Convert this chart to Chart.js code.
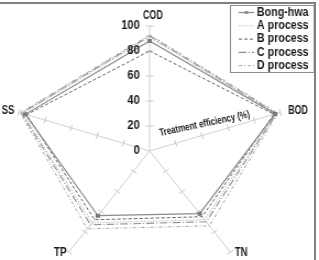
<!DOCTYPE html>
<html>
<head>
<meta charset="utf-8">
<script src="https://cdn.jsdelivr.net/npm/chart.js@4"></script>
<style>
html, body { margin: 0; padding: 0; background: #fff; }
#frame { position: relative; width: 319px; height: 260px; overflow: hidden; background: #fff; }
/* the reference is stretched sideways, so the canvas is too */
#wrap { position: absolute; left: 0; top: 0; width: 290px; height: 290px; transform: scaleX(1.1); transform-origin: 0 0; }
#edge { position: absolute; left: 0; top: 2px; width: 314px; height: 270px; border-top: 2px solid #808080; border-right: 2px solid #808080; pointer-events: none; }
</style>
</head>
<body>
<div id="frame">
  <div id="wrap"><canvas id="radar" width="290" height="290"></canvas></div>
  <div id="edge"></div>
</div>
<script>
const axes = ['COD', 'BOD', 'TN', 'TP', 'SS'];
const seriesNames = ['Bong-hwa', 'A process', 'B process', 'C process', 'D process'];
const bongHwa = [88, 96, 62, 64, 95];
const procA = [91, 96, 68, 71, 97];
const procB = [80, 95, 65, 68, 94];
const procC = [92, 97, 70, 73, 98];
const procD = [93, 98, 74, 77, 99];
const tickValues = [0, 20, 40, 60, 80, 100];
const axisTitle = 'Treatment efficiency (%)';

const ink = '#1a1a1a';
const font = (size) => 'bold ' + size + 'px "Liberation Sans", Arial, sans-serif';

// label offsets from the end of each spoke: dx, dy, align
const labelPos = [[3, -10, 'center'], [7, -2, 'left'], [4, 1, 'left'], [-2, 1, 'right'], [-4, -2, 'right']];

const deco = {
    id: 'deco',
    beforeDatasetsDraw(chart) {
        const s = chart.scales.r, ctx = chart.ctx;
        ctx.save();
        ctx.strokeStyle = '#c8c8c8';
        ctx.lineWidth = 1;
        axes.forEach((_, i) => {
            const a = s.getIndexAngle(i) - Math.PI / 2;
            const nx = -Math.sin(a), ny = Math.cos(a);
            tickValues.slice(1).forEach(v => {
                const p = s.getPointPositionForValue(i, v);
                ctx.beginPath();
                ctx.moveTo(p.x - nx * 3.5, p.y - ny * 3.5);
                ctx.lineTo(p.x + nx * 3.5, p.y + ny * 3.5);
                ctx.stroke();
            });
        });
        ctx.restore();
    },
    afterDraw(chart) {
        const s = chart.scales.r, ctx = chart.ctx;
        ctx.save();
        ctx.fillStyle = ink;
        ctx.textBaseline = 'middle';

        // value ticks beside the COD spoke
        ctx.font = font(12);
        ctx.textAlign = 'right';
        tickValues.forEach(v => {
            const p = s.getPointPositionForValue(0, v);
            ctx.fillText(String(v), s.xCenter - 9, p.y, String(v).length * 5.6);
        });

        // axis names
        ctx.font = font(12);
        axes.forEach((name, i) => {
            const p = s.getPointPositionForValue(i, 100);
            const [dx, dy, al] = labelPos[i];
            ctx.textAlign = al;
            ctx.fillText(name, p.x + dx, p.y + dy, name.length * 6.3 - 1);
        });

        // axis title along BOD spoke
        const t = s.getPointPositionForValue(1, 42);
        ctx.save();
        ctx.translate(t.x, t.y - 11);
        ctx.rotate(-13 * Math.PI / 180);
        ctx.font = font(10.5);
        ctx.textAlign = 'center';
        ctx.fillText(axisTitle, 0, 0, 84);
        ctx.restore();

        // legend box
        const lx0 = 209, lx1 = 285, ly0 = 5, ly1 = 72;
        ctx.fillStyle = '#fff';
        ctx.fillRect(lx0, ly0, lx1 - lx0, ly1 - ly0);
        ctx.strokeStyle = '#8c8c8c';
        ctx.lineWidth = 1;
        ctx.strokeRect(lx0 + 0.5, ly0 + 0.5, lx1 - lx0, ly1 - ly0);
        chart.data.datasets.forEach((ds, k) => {
            const y = 12.5 + k * 13.3;
            ctx.strokeStyle = ds.borderColor;
            ctx.lineWidth = ds.borderWidth;
            ctx.setLineDash(ds.borderDash || []);
            ctx.beginPath();
            ctx.moveTo(217, y);
            ctx.lineTo(231, y);
            ctx.stroke();
            ctx.setLineDash([]);
            if (ds.pointRadius) {
                ctx.fillStyle = ds.borderColor;
                ctx.fillRect(222.5, y - 1.5, 3, 3);
            }
            ctx.fillStyle = ink;
            ctx.font = font(12);
            ctx.textAlign = 'left';
            ctx.fillText(ds.label, 233.5, y, 47);
        });
        ctx.restore();
    }
};

const line = (label, data, color, dash, width) => ({
    label, data,
    borderColor: color, borderDash: dash, borderWidth: width,
    backgroundColor: 'transparent', fill: false,
    pointRadius: 0
});

const datasets = [
    { ...line(seriesNames[0], bongHwa, '#8a8a8a', [], 1.2), pointRadius: 2, pointStyle: 'rect', pointBackgroundColor: '#7a7a7a', pointBorderColor: '#7a7a7a' },
    line(seriesNames[1], procA, '#b0b0b0', [1, 1.5], 1.1),
    line(seriesNames[2], procB, '#606060', [3, 2], 1),
    line(seriesNames[3], procC, '#8f8f8f', [7, 2, 1, 2], 1.1),
    line(seriesNames[4], procD, '#a0a0a0', [3, 2, 1, 2], 1)
];

new Chart(document.getElementById('radar'), {
    type: 'radar',
    data: { labels: axes, datasets },
    options: {
        responsive: false, animation: false,
        layout: { padding: { left: 11, right: 29, top: 26, bottom: 14 } },
        plugins: { legend: { display: false }, tooltip: { enabled: false } },
        elements: { line: { tension: 0 } },
        scales: {
            r: {
                min: 0, max: 100,
                ticks: { display: false, stepSize: 20 },
                grid: { display: false },
                angleLines: { color: '#d0d0d0', lineWidth: 1 },
                pointLabels: { display: false }
            }
        }
    },
    plugins: [deco]
});
</script>
</body>
</html>
